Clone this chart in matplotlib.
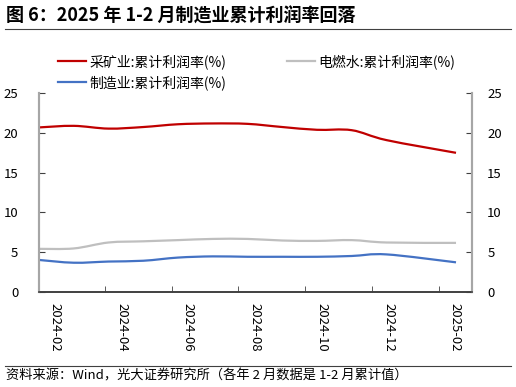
import numpy as np
import matplotlib
matplotlib.use('Agg')
import matplotlib.pyplot as plt
from matplotlib.lines import Line2D
from matplotlib.path import Path
from matplotlib.patches import PathPatch

plt.rcParams['font.family'] = ['Noto Sans CJK SC', 'DejaVu Sans']

# month index from 2024-02 (January is folded into February each year)
months = [0, 1, 2, 3, 4, 5, 6, 7, 8, 9, 10, 12]
mining = [20.7, 20.9, 20.55, 20.75, 21.1, 21.2, 21.15, 20.75, 20.4, 20.35, 19.1, 17.5]
utilities = [5.4, 5.45, 6.2, 6.35, 6.5, 6.65, 6.65, 6.45, 6.4, 6.5, 6.2, 6.15]
manufacturing = [4.0, 3.65, 3.8, 3.9, 4.3, 4.45, 4.4, 4.4, 4.4, 4.5, 4.7, 3.7]

xlabels = ['2024-02', '2024-04', '2024-06', '2024-08', '2024-10', '2024-12', '2025-02']
names = ['采矿业:累计利润率(%)', '电燃水:累计利润率(%)', '制造业:累计利润率(%)']
colors = ['#C00000', '#BFBFBF', '#4472C4']


def smooth_line(ax, x, y, color):
    # excel-like smoothed line: catmull-rom segments as cubic beziers
    p = np.column_stack([x, y]).astype(float)
    p = np.vstack([p[0], p, p[-1]])
    verts = [tuple(p[1])]
    codes = [Path.MOVETO]
    for i in range(1, len(p) - 2):
        c1 = p[i] + (p[i+1] - p[i-1]) / 6
        c2 = p[i+1] - (p[i+2] - p[i]) / 6
        verts += [tuple(c1), tuple(c2), tuple(p[i+1])]
        codes += [Path.CURVE4] * 3
    ax.add_patch(PathPatch(Path(verts, codes), fill=False, edgecolor=color,
                           lw=1.6, capstyle='butt', joinstyle='round'))
    return Line2D([], [], color=color, lw=1.6)


fig = plt.figure(figsize=(5.16, 3.87), dpi=100)
ax = fig.add_axes([39/516, 95.3/387, 433/516, 198.4/387])

h1 = smooth_line(ax, months, mining, colors[0])
h2 = smooth_line(ax, months, utilities, colors[1])
h3 = smooth_line(ax, months, manufacturing, colors[2])

ax.set_xlim(0, 12.46)
ax.set_ylim(0, 25)
ax.set_yticks([0, 5, 10, 15, 20, 25])

lab_pos = 0.46 + 1.92*np.arange(len(xlabels))
ax.set_xticks(lab_pos)
ax.set_xticklabels(xlabels, rotation=-90, fontsize=9.5)
ax.set_xticks(1.90 + 1.92*np.arange(6), minor=True)
ax.tick_params(axis='x', which='major', length=0, pad=8)
ax.tick_params(axis='x', which='minor', direction='in', length=4, color='#404040')
ax.tick_params(axis='y', direction='in', length=4, color='#404040', labelsize=9.5, pad=15)

ax2 = ax.twinx()
ax2.set_ylim(0, 25)
ax2.set_yticks([0, 5, 10, 15, 20, 25])
ax2.tick_params(axis='y', direction='in', length=4, color='#404040', labelsize=9.5, pad=11)

for a in (ax, ax2):
    a.spines['top'].set_visible(False)
    for s in ['left', 'right']:
        a.spines[s].set_color('#A6A6A6')
        a.spines[s].set_linewidth(1.5)
    a.spines['bottom'].set_color('#404040')
    a.spines['bottom'].set_linewidth(1.2)

leg = fig.legend([h1, h3, h2], [names[0], names[2], names[1]], ncol=2,
                 loc='upper left', bbox_to_anchor=(58/516, 1-54/387),
                 frameon=False, fontsize=10, handlelength=2.0, handletextpad=0.25,
                 columnspacing=4.4, labelspacing=0.45, borderpad=0, borderaxespad=0)

fig.text(6/516, 1-16/387, '图 6：2025 年 1-2 月制造业累计利润率回落', fontsize=13,
         fontweight='bold', va='center', ha='left')
fig.add_artist(Line2D([5/516, 511/516], [1-29/387, 1-29/387], color='#404040', lw=0.8))
fig.add_artist(Line2D([5/516, 511/516], [1-366/387, 1-366/387], color='#404040', lw=0.8))
fig.text(6/516, 1-376/387, '资料来源：Wind，光大证券研究所（各年 2 月数据是 1-2 月累计值）',
         fontsize=9.5, va='center', ha='left')

fig.savefig('out.png', dpi=100)
